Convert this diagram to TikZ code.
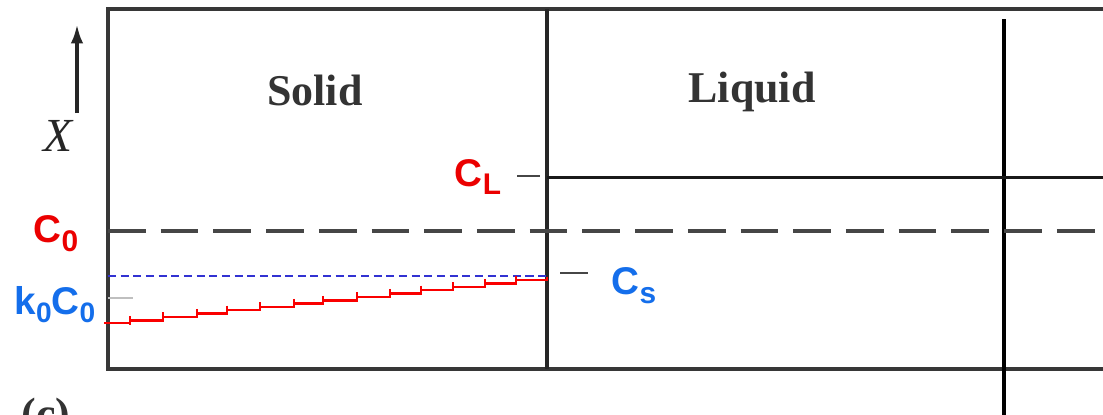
\documentclass[tikz,border=0pt]{standalone}
\usepackage{fontspec}
\setmainfont{Liberation Serif}
\newfontfamily\labfont{Liberation Sans}
\usetikzlibrary{arrows.meta}
\definecolor{framegray}{RGB}{55,55,55}
\definecolor{dashgray}{RGB}{70,70,70}
\definecolor{labred}{RGB}{235,0,0}
\definecolor{labblue}{RGB}{20,110,235}
\definecolor{lineblue}{RGB}{50,50,210}
\definecolor{stepred}{RGB}{250,0,0}
\newcommand\lowsub[1]{{\fontsize{17}{18}\selectfont\raisebox{-5pt}{#1}}}
\newcommand\lowsubk[1]{{\fontsize{16}{17}\selectfont\raisebox{-4.5pt}{#1}}}
\tikzset{
  frameline/.style={draw=framegray, line width=2.2pt},
  interface/.style={draw=black!85, line width=1.8pt},
  clline/.style={draw=black!90, line width=1.7pt},
  cozero/.style={draw=dashgray, line width=2.2pt, dash pattern=on 21.5pt off 8.5pt},
  csline/.style={draw=lineblue, line width=0.8pt, dash pattern=on 4.6pt off 2.6pt},
  tickline/.style={draw=dashgray, line width=1.6pt},
  redline/.style={draw=stepred, line width=1.4pt},
  phase/.style={font=\bfseries\fontsize{25}{30}\selectfont, text=black!80, inner sep=0pt},
  redlab/.style={font=\labfont\bfseries\fontsize{22}{24}\selectfont, text=labred, inner sep=0pt},
  bluelab/.style={font=\labfont\bfseries\fontsize{22}{24}\selectfont, text=labblue, inner sep=0pt},
}
\begin{document}
\begin{tikzpicture}[x=0.02cm, y=-0.02cm]
\clip (0,0) rectangle (1103,414);
\fill[white] (0,0) rectangle (1103,414);
% frame
\coordinate (tl) at (108,9);
\coordinate (bl) at (108,369);
\coordinate (tr) at (1103,9);
\coordinate (br) at (1103,369);
\draw[frameline] (tr) -- (tl) -- (bl) -- (br);
% interface
\coordinate (it) at (547,9);
\coordinate (ib) at (547,369);
\draw[interface] (it) -- (ib);
% right vertical line
\coordinate (rt) at (1004,19);
\coordinate (rb) at (1004,420);
\draw[line width=2.3pt, black] (rt) -- (rb);
% C_L line
\coordinate (cla) at (547,177);
\coordinate (clb) at (1103,177);
\draw[clline] (cla) -- (clb);
\coordinate (clt1) at (517,176);
\coordinate (clt2) at (540,176);
\draw[tickline] (clt1) -- (clt2);
% C_0 dashed
\coordinate (c0a) at (108,231);
\coordinate (c0b) at (1110,231);
\draw[cozero] (c0a) -- (c0b);
% C_s blue dashed
\coordinate (csa) at (108,276);
\coordinate (csb) at (547,276);
\draw[csline] (csa) -- (csb);
\coordinate (cst1) at (560,273);
\coordinate (cst2) at (588,273);
\draw[tickline] (cst1) -- (cst2);
% k0C0 tick
\coordinate (kt1) at (108,298);
\coordinate (kt2) at (133,298);
\draw[draw=black!25, line width=1pt] (kt1) -- (kt2);
% red staircase
\def\yof#1{323-(#1-104)*0.1038}
\coordinate (r0) at (104,323);
\foreach \xa/\xb in {104/130,130/163,163/197,197/227,227/260,260/294,294/323,323/357,357/390,390/421,421/453,453/485,485/516,516/547}{
  \draw[redline] (\xa,{\yof{\xa}}) -- (\xb,{\yof{\xa}}) -- (\xb,{\yof{\xb}});
}
\foreach \xt in {130,163,197,227,260,294,323,357,390,421,453,485,516}{
  \draw[redline] (\xt,{\yof{\xt}-4.5}) -- (\xt,{\yof{\xt}+4.5});
}
% x axis arrow
\coordinate (ax1) at (77,113);
\coordinate (ax2) at (77,24);
\draw[line width=2.1pt, draw=black!85, -{Latex[length=11pt,width=7pt]}] (ax1) -- (ax2);
\node[font=\itshape\fontsize{27}{30}\selectfont, text=black!85] (xlab) at (58,136) {X};
% phase labels
\node[phase] (solid) at (315,90) {Solid};
\node[phase] (liquid) at (752,92) {Liquid};
% concentration labels
\node[redlab] (cl) at (478,177) {C\lowsub{L}};
\node[redlab] (c0) at (56,234) {C\lowsub{0}};
\node[bluelab] (cs) at (634,286) {C\lowsub{s}};
\node[bluelab] (k0c0) at (55,305) {k\lowsubk{0}C\lowsubk{0}};
% panel label (cut off)
\node[phase] (panel) at (46,418) {(c)};
\end{tikzpicture}
\end{document}
